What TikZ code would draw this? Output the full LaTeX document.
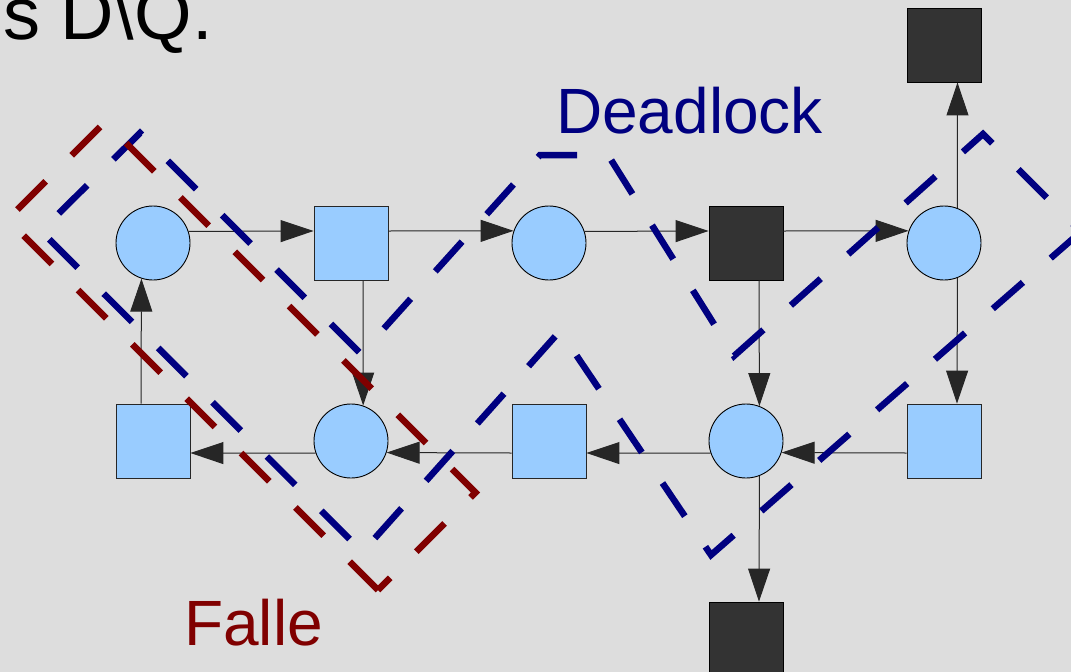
\documentclass[tikz,border=0pt]{standalone}
\usepackage{fontspec}
\setmainfont{Liberation Sans}
\usetikzlibrary{arrows.meta}
\definecolor{bg}{HTML}{DDDDDD}
\definecolor{placefill}{HTML}{99CCFF}
\definecolor{darkfill}{HTML}{333333}
\definecolor{dlblue}{HTML}{000080}
\definecolor{trapred}{HTML}{800000}

\begin{document}
\begin{tikzpicture}[x=1pt,y=-1pt,
  placenode/.style={circle,draw=black,line width=0.9pt,fill=placefill,minimum size=74pt,inner sep=0pt},
  transnode/.style={rectangle,draw=black!85,line width=0.9pt,fill=placefill,minimum size=74pt,inner sep=0pt},
  blockednode/.style={rectangle,draw=black,line width=0.9pt,fill=darkfill,minimum size=74pt,inner sep=0pt},
  flow/.style={draw=black!85,line width=1pt,-{Triangle[length=33pt,width=22pt]}},
  dashzone/.style={line width=6.5pt,dash pattern=on 40pt off 36.85pt},
  bigtext/.style={font=\fontsize{64}{76}\selectfont,inner sep=0pt,anchor=base west}]

\useasboundingbox (0,0) rectangle (1071,672);
\fill[bg] (0,0) rectangle (1071,672);

% places and transitions
\node[placenode] (p1) at (153,243) {};
\node[transnode] (t1) at (351,243) {};
\node[placenode] (p2) at (549,243) {};
\node[blockednode] (t2) at (746,243) {};
\node[placenode] (p3) at (944,243) {};
\node[blockednode] (t3) at (944.5,45) {};
\node[transnode] (t4) at (153,441) {};
\node[placenode] (p4) at (351,441) {};
\node[transnode] (t5) at (549,441) {};
\node[placenode] (p5) at (746,441) {};
\node[transnode] (t6) at (944,441) {};
\node[blockednode] (t7) at (746,639) {};

% arcs of the net
\draw[flow] (p1.18.9) -- ([yshift=12pt]t1.west);
\draw[flow] ([yshift=12pt]t1.east) -- (p2.161.1);
\draw[flow] (p2.18.9) -- ([yshift=12pt]t2.west);
\draw[flow] ([yshift=12pt]t2.east) -- (p3.161.1);
\draw[flow] (p3.69.4) -- ([xshift=13pt]t3.south);
\draw[flow] ([xshift=12pt]t1.south) -- (p4.71.1);
\draw[flow] ([xshift=13pt]t2.south) -- (p5.69.4);
\draw[flow] (p3.-69.4) -- ([xshift=13pt]t6.north);
\draw[flow] ([yshift=-12pt]t6.west) -- (p5.-18.9);
\draw[flow] (p5.-161.1) -- ([yshift=-12pt]t5.east);
\draw[flow] ([yshift=-12pt]t5.west) -- (p4.-18.9);
\draw[flow] (p4.-161.1) -- ([yshift=-12pt]t4.east);
\draw[flow] ([xshift=-12pt]t4.north) -- (p1.-108.9);
\draw[flow] (p5.-69.4) -- ([xshift=13pt]t7.north);

% labels
\node[bigtext,text=black,font=\fontsize{74}{88}\selectfont] (title) at (2.8,39.3) {s D\textbackslash Q.};
\node[bigtext,text=dlblue] (dl) at (556,133.3) {Deadlock};
\node[bigtext,text=trapred] (falle) at (184,645) {Falle};

% deadlock region
\draw[dashzone,dlblue] (1080.8,231.8) -- (711,555) -- (560,331) -- (362.5,552)
  -- (41,231) -- (140,133) -- (361,354) -- (540,155) -- (608,155)
  -- (734,356) -- (983,134) -- cycle;

% trap region
\draw[dashzone,trapred] (378,590) -- (7.5,219.5) -- (105,122) -- (475.5,492.5) -- cycle;
\end{tikzpicture}
\end{document}
